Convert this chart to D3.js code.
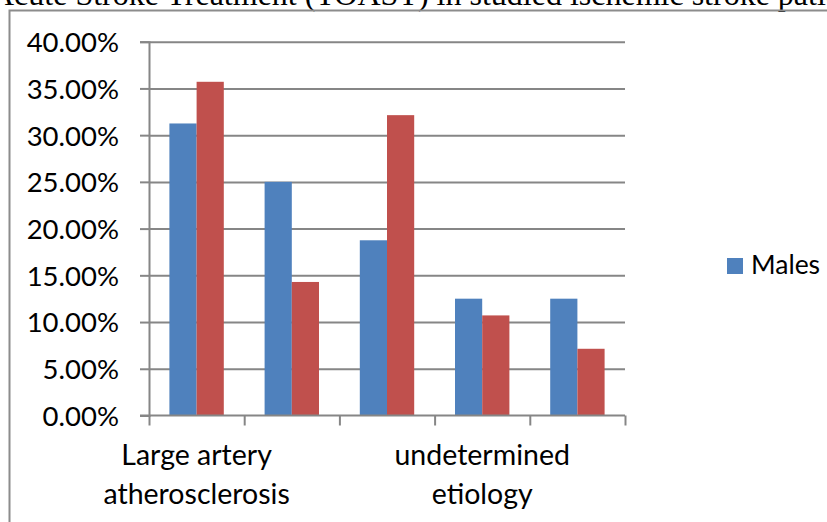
<!DOCTYPE html>
<html>
<head>
<meta charset="utf-8">
<script src="https://cdn.jsdelivr.net/npm/d3@7"></script>
<style>
  body { margin: 0; background: #fff; overflow: hidden; }
  .axis path, .axis line { stroke: #868686; stroke-width: 2; }
  .axis text { font-family: Lato, sans-serif; font-size: 27.5px; fill: #000; }
</style>
</head>
<body>
<div id="chart"></div>
<script>
var categories = [0, 1, 2, 3, 4];
var tickLabels = [["Large artery", "atherosclerosis"], [], [], ["undetermined", "etiology"], []];
var males = [31.25, 25.0, 18.75, 12.5, 12.5];
var females = [35.71, 14.29, 32.14, 10.71, 7.14];
var yTicks = [0, 5, 10, 15, 20, 25, 30, 35, 40];
var titleText = "Acute Stroke Treatment (TOAST) in studied ischemic stroke patients";

function init() {
  var w = 827;
  var h = 522;
  var left = 149, right = 625, top = 41.7, bottom = 415.5;

  var svg = d3.select("#chart")
    .append("svg")
    .attr("width", w)
    .attr("height", h);

  // title, cut off by the page like the source
  svg.append("text")
    .attr("x", -9)
    .attr("y", 5)
    .attr("font-family", "'Liberation Serif', 'Times New Roman', serif")
    .attr("font-size", 32)
    .attr("fill", "#000")
    .text(titleText);

  // chart frame
  svg.append("path")
    .attr("d", "M9.5," + h + "V10.5H" + w)
    .attr("fill", "none")
    .attr("stroke", "#8c8c8c")
    .attr("stroke-width", 2);

  var y = d3.scaleLinear().domain([0, 40]).range([bottom, top]);
  var x = d3.scaleBand()
    .domain(categories)
    .range([left, right])
    .paddingInner(0.4286)
    .paddingOuter(0.2143);
  var xSub = d3.scaleBand().domain([0, 1]).range([0, x.bandwidth()]);
  var xEdge = d3.scaleLinear().domain([0, categories.length]).range([left, right]);

  // gridlines
  svg.append("g")
    .attr("class", "axis")
    .attr("transform", "translate(" + left + ",0)")
    .call(d3.axisLeft(y).tickValues(yTicks.slice(1)).tickSize(-(right - left)).tickFormat(""))
    .call(function(g) { g.select(".domain").remove(); });

  // bars
  var groups = svg.selectAll(".grp")
    .data(categories)
    .enter()
    .append("g")
    .attr("transform", function(d) { return "translate(" + x(d) + ",0)"; });

  groups.append("rect")
    .attr("x", xSub(0))
    .attr("width", xSub.bandwidth())
    .attr("y", function(d) { return y(males[d]); })
    .attr("height", function(d) { return bottom - y(males[d]); })
    .attr("fill", "#4F81BD");

  groups.append("rect")
    .attr("x", xSub(1))
    .attr("width", xSub.bandwidth())
    .attr("y", function(d) { return y(females[d]); })
    .attr("height", function(d) { return bottom - y(females[d]); })
    .attr("fill", "#C0504D");

  // y axis
  svg.append("g")
    .attr("class", "axis")
    .attr("transform", "translate(" + left + ",0)")
    .call(d3.axisLeft(y).tickValues(yTicks).tickSize(9).tickPadding(21)
      .tickFormat(function(d) { return d.toFixed(2) + "%"; }))
    .call(function(g) { g.selectAll("text").attr("dy", "0.36em"); });

  // x axis
  var xa = svg.append("g")
    .attr("class", "axis")
    .attr("transform", "translate(0," + bottom + ")")
    .call(d3.axisBottom(xEdge).tickValues(d3.range(categories.length + 1)).tickSize(10).tickFormat(""));
  xa.select(".domain").attr("d", "M140,0H" + right);

  var labels = svg.selectAll(".xlab")
    .data(categories)
    .enter()
    .append("text")
    .attr("text-anchor", "middle")
    .attr("font-family", "Lato, sans-serif")
    .attr("font-size", 28.5)
    .attr("fill", "#000");
  labels.selectAll("tspan")
    .data(function(d) { return tickLabels[d].map(function(t) { return { t: t, c: d }; }); })
    .enter()
    .append("tspan")
    .attr("x", function(d) { return x(d.c) + x.bandwidth() / 2; })
    .attr("y", function(d, i) { return 465 + i * 39; })
    .text(function(d) { return d.t; });

  // legend
  svg.append("rect")
    .attr("x", 727).attr("y", 258)
    .attr("width", 16).attr("height", 16)
    .attr("fill", "#4F81BD");
  svg.append("text")
    .attr("x", 751).attr("y", 274)
    .attr("font-family", "Lato, sans-serif")
    .attr("font-size", 26.5)
    .attr("fill", "#000")
    .text("Males");
}

window.onload = init;
</script>
</body>
</html>
